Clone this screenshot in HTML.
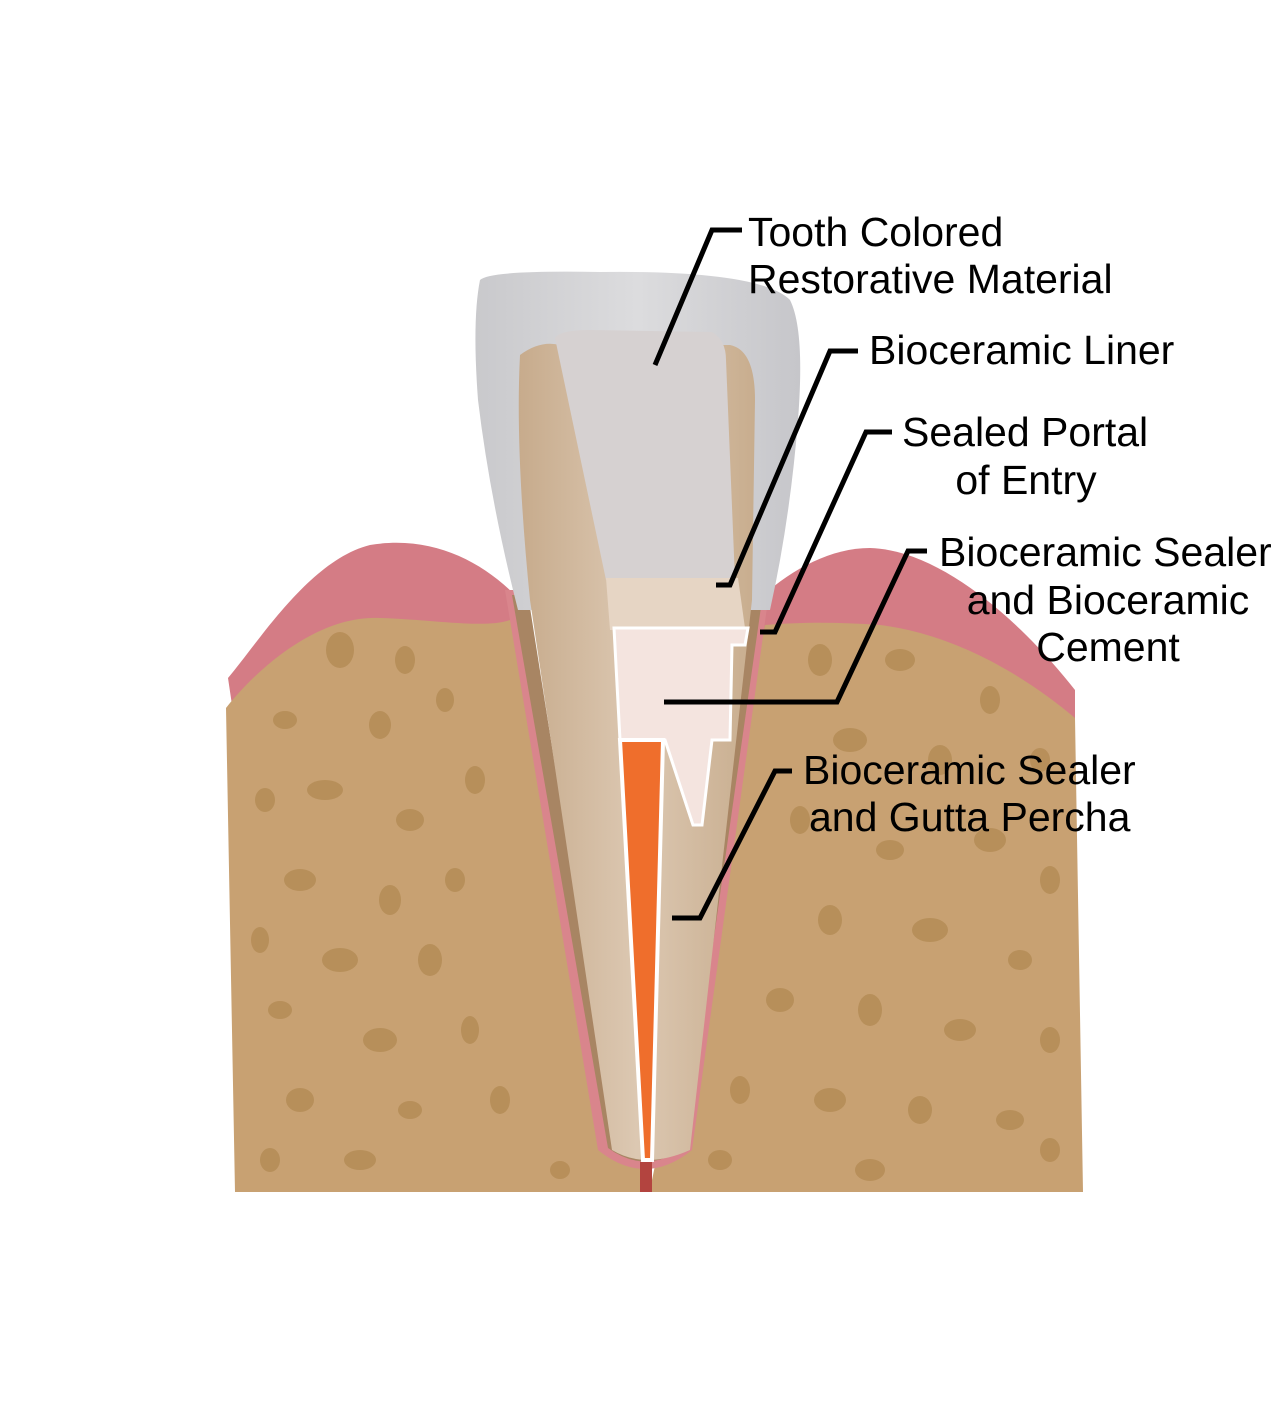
<!DOCTYPE html>
<html><head><meta charset="utf-8"><style>
html,body{margin:0;padding:0;background:#fff;}
svg{display:block}
text{font-family:"Liberation Sans",Arial,sans-serif;font-size:41px;fill:#000}
</style></head><body>
<svg width="1288" height="1401" viewBox="0 0 1288 1401" xmlns="http://www.w3.org/2000/svg">
<defs>
<linearGradient id="crown" x1="0" x2="1" y1="0" y2="0">
<stop offset="0" stop-color="#c9c9cc"/><stop offset="0.5" stop-color="#dcdcde"/><stop offset="1" stop-color="#c6c6ca"/></linearGradient>
<linearGradient id="dent" x1="0" x2="1" y1="0" y2="0">
<stop offset="0" stop-color="#c7ab8c"/><stop offset="0.5" stop-color="#dcc8b2"/><stop offset="1" stop-color="#c8ad8e"/></linearGradient>
</defs>
<path d="M228 678 C260 640 310 560 370 545 C430 535 480 560 515 595 L515 760 L232 760 L232 705 Z" fill="#d47c85"/>
<path d="M758 600 C790 570 830 548 870 548 C940 550 1020 620 1075 690 L1075 780 L758 780 Z" fill="#d47c85"/>
<path d="M226 708 C260 665 320 615 380 618 C440 620 490 630 515 618 L650 1190 L765 625 C800 622 840 622 880 625 C960 635 1030 680 1075 718 L1083 1192 L235 1192 Z" fill="#c8a172"/>
<g fill="#b08850" opacity="0.7">
<ellipse cx="340" cy="650" rx="14" ry="18"/><ellipse cx="405" cy="660" rx="10" ry="14"/><ellipse cx="285" cy="720" rx="12" ry="9"/>
<ellipse cx="380" cy="725" rx="11" ry="14"/><ellipse cx="445" cy="700" rx="9" ry="12"/><ellipse cx="325" cy="790" rx="18" ry="10"/>
<ellipse cx="265" cy="800" rx="10" ry="12"/><ellipse cx="410" cy="820" rx="14" ry="11"/><ellipse cx="475" cy="780" rx="10" ry="14"/>
<ellipse cx="300" cy="880" rx="16" ry="11"/><ellipse cx="390" cy="900" rx="11" ry="15"/><ellipse cx="260" cy="940" rx="9" ry="13"/>
<ellipse cx="455" cy="880" rx="10" ry="12"/><ellipse cx="340" cy="960" rx="18" ry="12"/><ellipse cx="430" cy="960" rx="12" ry="16"/>
<ellipse cx="280" cy="1010" rx="12" ry="9"/><ellipse cx="380" cy="1040" rx="17" ry="12"/><ellipse cx="470" cy="1030" rx="9" ry="14"/>
<ellipse cx="300" cy="1100" rx="14" ry="12"/><ellipse cx="410" cy="1110" rx="12" ry="9"/><ellipse cx="500" cy="1100" rx="10" ry="14"/>
<ellipse cx="360" cy="1160" rx="16" ry="10"/><ellipse cx="270" cy="1160" rx="10" ry="12"/><ellipse cx="560" cy="1170" rx="10" ry="9"/>
<ellipse cx="820" cy="660" rx="12" ry="16"/><ellipse cx="900" cy="660" rx="15" ry="11"/><ellipse cx="990" cy="700" rx="10" ry="14"/>
<ellipse cx="850" cy="740" rx="17" ry="12"/><ellipse cx="940" cy="760" rx="12" ry="15"/><ellipse cx="1040" cy="760" rx="10" ry="12"/>
<ellipse cx="800" cy="820" rx="10" ry="14"/><ellipse cx="890" cy="850" rx="14" ry="10"/><ellipse cx="990" cy="840" rx="16" ry="12"/>
<ellipse cx="1050" cy="880" rx="10" ry="14"/><ellipse cx="830" cy="920" rx="12" ry="15"/><ellipse cx="930" cy="930" rx="18" ry="12"/>
<ellipse cx="1020" cy="960" rx="12" ry="10"/><ellipse cx="780" cy="1000" rx="14" ry="12"/><ellipse cx="870" cy="1010" rx="12" ry="16"/>
<ellipse cx="960" cy="1030" rx="16" ry="11"/><ellipse cx="1050" cy="1040" rx="10" ry="13"/><ellipse cx="740" cy="1090" rx="10" ry="14"/>
<ellipse cx="830" cy="1100" rx="16" ry="12"/><ellipse cx="920" cy="1110" rx="12" ry="14"/><ellipse cx="1010" cy="1120" rx="14" ry="10"/>
<ellipse cx="720" cy="1160" rx="12" ry="10"/><ellipse cx="870" cy="1170" rx="15" ry="11"/><ellipse cx="1050" cy="1150" rx="10" ry="12"/>
</g>
<path d="M505 590 L598 1150 Q645 1188 692 1150 L768 600 L752 600 L680 1150 Q645 1172 612 1150 L522 590 Z" fill="#d9858c"/>
<path d="M512 595 L608 1148 Q645 1175 684 1148 L762 600 L745 600 L675 1145 Q645 1162 615 1145 L528 595 Z" fill="#a88563"/>
<path d="M480 280 Q490 270 600 272 Q760 270 790 300 Q805 330 798 420 Q790 520 770 610 L518 610 Q490 500 478 400 Q472 320 480 280 Z" fill="url(#crown)"/>
<path d="M520 355 Q540 340 560 345 L730 345 Q755 350 755 400 L752 600 L690 1150 Q645 1170 612 1150 L530 600 Q515 450 520 355 Z" fill="url(#dent)"/>
<path d="M555 338 Q560 330 590 330 L712 332 Q726 340 726 360 L735 580 L606 580 Z" fill="#d6d1d1"/>
<path d="M606 578 L738 578 L745 628 L610 630 Z" fill="#e6d5c4"/>
<path d="M614 628 L748 628 L745 645 L732 645 L730 740 L712 740 L702 825 L693 825 L665 740 L620 740 Z" fill="#f4e4df" stroke="#fff" stroke-width="3"/>
<path d="M620 740 L663 740 L652 1160 L643 1160 Z" fill="#ef6e2c" stroke="#fff" stroke-width="4"/>
<rect x="640" y="1162" width="12" height="30" fill="#b3443f"/>
<g fill="none" stroke="#000" stroke-width="5" stroke-linejoin="miter">
<polyline points="742,230 712,230 655,365"/>
<polyline points="858,351 830,351 730,585 716,585"/>
<polyline points="892,432 866,432 775,632 760,632"/>
<polyline points="927,551 908,551 837,702 664,702"/>
<polyline points="792,771 775,771 700,918 672,918"/>
</g>
<text x="748" y="246">Tooth Colored</text>
<text x="748" y="293">Restorative Material</text>
<text x="869" y="364">Bioceramic Liner</text>
<text x="902" y="446">Sealed Portal</text>
<text x="1026" y="494" text-anchor="middle">of Entry</text>
<text x="939" y="566">Bioceramic Sealer</text>
<text x="1108" y="614" text-anchor="middle">and Bioceramic</text>
<text x="1108" y="661" text-anchor="middle">Cement</text>
<text x="803" y="784">Bioceramic Sealer</text>
<text x="809" y="831">and Gutta Percha</text>
</svg>
</body></html>
